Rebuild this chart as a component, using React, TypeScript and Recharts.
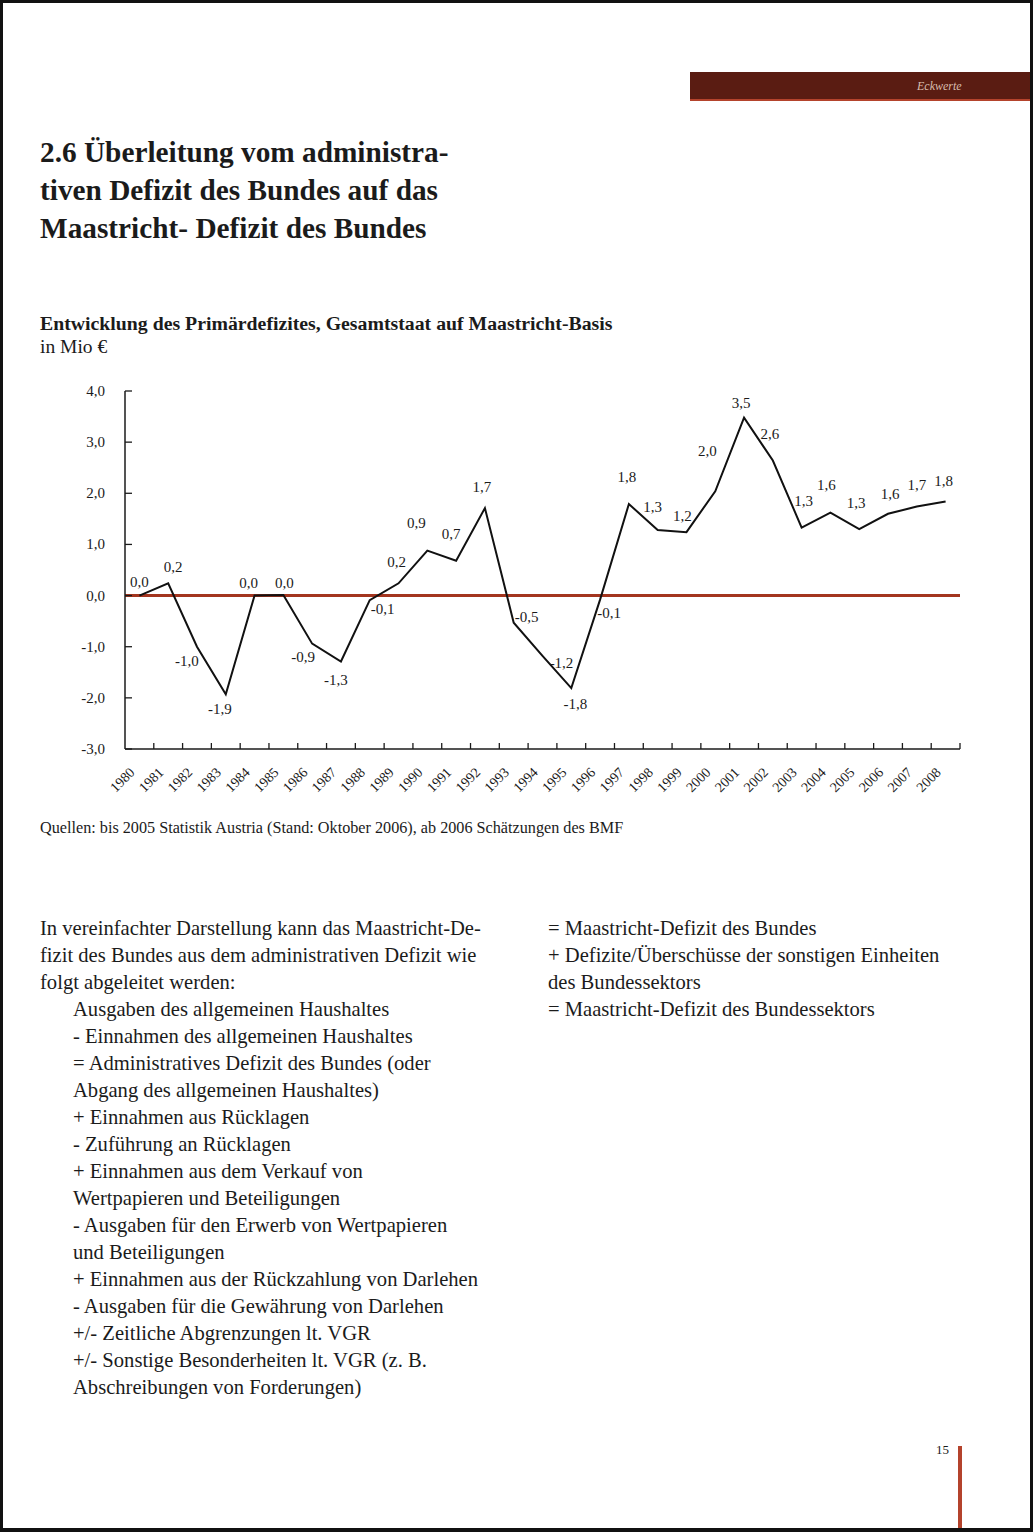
import React from 'react';
import { LineChart, Line, XAxis, YAxis, ReferenceLine, LabelList } from 'recharts';

const years = ['1980','1981','1982','1983','1984','1985','1986','1987','1988','1989','1990','1991','1992','1993','1994','1995','1996','1997','1998','1999','2000','2001','2002','2003','2004','2005','2006','2007','2008'];
const primaryDeficit = [0.0, 0.24, -1.0, -1.93, 0.0, 0.01, -0.94, -1.29, -0.09, 0.24, 0.88, 0.68, 1.71, -0.53, -1.18, -1.81, -0.08, 1.79, 1.28, 1.24, 2.04, 3.48, 2.64, 1.33, 1.62, 1.30, 1.60, 1.74, 1.84];
const yTicks = [-3, -2, -1, 0, 1, 2, 3, 4];

// label placement (text centre relative to the point), styling only
const labelOffsets: [number, number][] = [
  [0,-14],[5,-16],[-10,14],[-6,15],[-6,-13],[1,-12],[-9,13],[-5,18],[13,9],[-2,-21],
  [-11,-28],[-5,-27],[-3,-21],[13,-6],[19,7],[4,16],[9,13],[-2,-27],[-5,-23],[-4,-16],
  [-8,-40],[-3,-15],[-3,-27],[2,-27],[-4,-28],[-3,-26],[2,-20],[0,-22],[-2,-20],
];

const data = years.map((y, i) => ({ year: y, value: primaryDeficit[i] }));

const FONT = '"Liberation Serif", "Times New Roman", serif';
const INK = '#1b1b1b';
const fmt = (v: number) => v.toFixed(1).replace('.', ',');

const CHART_W = 1033;
const CHART_H = 430;
const MARGIN = { top: 21, right: 73, bottom: 0, left: 0 };
const Y_W = 125;
const X_H = 51;
const PLOT_W = CHART_W - MARGIN.right - MARGIN.left - Y_W;
const BAND = PLOT_W / years.length;

const YTick = (props: any) => {
  const { x, y, payload } = props;
  return (
    <g>
      <line x1={x} x2={x + 7} y1={y} y2={y} stroke={INK} strokeWidth={1.3} />
      <text x={x - 20} y={y} textAnchor="end" dominantBaseline="central" fontFamily={FONT} fontSize={15} fill={INK}>
        {fmt(payload.value)}
      </text>
    </g>
  );
};

const XTick = (props: any) => {
  const { x, y, payload } = props;
  const tx = x + BAND / 2;
  const lx = x - 7;
  const ly = y + 21;
  return (
    <g>
      <line x1={tx} x2={tx} y1={y} y2={y - 6} stroke={INK} strokeWidth={1.3} />
      <text x={lx} y={ly} textAnchor="end" dominantBaseline="central" fontFamily={FONT} fontSize={14} fill={INK}
        transform={`rotate(-45 ${lx} ${ly})`}>
        {payload.value}
      </text>
    </g>
  );
};

const PointLabel = (props: any) => {
  const { x, y, value, index } = props;
  const off = labelOffsets[index] || [0, -14];
  return (
    <text x={x + off[0]} y={y + off[1]} textAnchor="middle" dominantBaseline="central" fontFamily={FONT} fontSize={15} fill={INK}>
      {fmt(value)}
    </text>
  );
};

const leftLines: [string, boolean][] = [
  ['In vereinfachter Darstellung kann das Maastricht-De-', false],
  ['fizit des Bundes aus dem administrativen Defizit wie', false],
  ['folgt abgeleitet werden:', false],
  ['Ausgaben des allgemeinen Haushaltes', true],
  ['- Einnahmen des allgemeinen Haushaltes', true],
  ['= Administratives Defizit des Bundes (oder', true],
  ['Abgang des allgemeinen Haushaltes)', true],
  ['+ Einnahmen aus Rücklagen', true],
  ['- Zuführung an Rücklagen', true],
  ['+ Einnahmen aus dem Verkauf von', true],
  ['Wertpapieren und Beteiligungen', true],
  ['- Ausgaben für den Erwerb von Wertpapieren', true],
  ['und Beteiligungen', true],
  ['+ Einnahmen aus der Rückzahlung von Darlehen', true],
  ['- Ausgaben für die Gewährung von Darlehen', true],
  ['+/- Zeitliche Abgrenzungen lt. VGR', true],
  ['+/- Sonstige Besonderheiten lt. VGR (z. B.', true],
  ['Abschreibungen von Forderungen)', true],
];
const rightLines = [
  '= Maastricht-Defizit des Bundes',
  '+ Defizite/Überschüsse der sonstigen Einheiten',
  'des Bundessektors',
  '= Maastricht-Defizit des Bundessektors',
];
const titleLines = [
  '2.6 Überleitung vom administra-',
  'tiven Defizit des Bundes auf das',
  'Maastricht- Defizit des Bundes',
];

const abs = (left: number, top: number, extra: React.CSSProperties = {}): React.CSSProperties => ({
  position: 'absolute', left, top, whiteSpace: 'nowrap', ...extra,
});

export default function App() {
  const bodyStyle: React.CSSProperties = { fontFamily: FONT, fontSize: 20.6, color: INK, lineHeight: '27px' };
  return (
    <div style={{ position: 'absolute', left: 0, top: 0, width: 1033, height: 1532, background: '#fff', overflow: 'hidden', fontFamily: FONT }}>
      {/* scan frame */}
      <div style={abs(0, 0, { width: 1033, height: 3, background: '#111' })} />
      <div style={abs(0, 0, { width: 3, height: 1532, background: '#111' })} />
      <div style={abs(1030, 0, { width: 3, height: 1532, background: '#111' })} />
      <div style={abs(0, 1528, { width: 1033, height: 4, background: '#111' })} />

      {/* header bar */}
      <div style={abs(690, 72, { width: 340, height: 27, background: '#5a1c12' })} />
      <div style={abs(690, 99, { width: 340, height: 2, background: '#b4432c' })} />
      <div style={abs(917, 78, { fontSize: 12, fontStyle: 'italic', color: '#d9bcae', lineHeight: '16px' })}>Eckwerte</div>

      {/* title */}
      {titleLines.map((t, i) => (
        <div key={i} style={abs(40, 132 + i * 38, { fontSize: 29.3, fontWeight: 'bold', color: INK, lineHeight: '40px' })}>{t}</div>
      ))}

      {/* chart heading */}
      <div style={abs(40, 311, { fontSize: 19.8, fontWeight: 'bold', color: INK, lineHeight: '24px' })}>
        Entwicklung des Primärdefizites, Gesamtstaat auf Maastricht-Basis
      </div>
      <div style={abs(40, 335, { fontSize: 19.5, color: INK, lineHeight: '24px' })}>in Mio €</div>

      {/* chart */}
      <div style={abs(0, 370, { width: CHART_W, height: CHART_H })}>
        <LineChart width={CHART_W} height={CHART_H} data={data} margin={MARGIN}>
          <XAxis dataKey="year" scale="band" interval={0} height={X_H} tickSize={0} tickMargin={0}
            axisLine={{ stroke: INK, strokeWidth: 1.5 }} tickLine={false} tick={<XTick />} />
          <YAxis type="number" domain={[-3, 4]} ticks={yTicks} width={Y_W} tickSize={0} tickMargin={0}
            axisLine={{ stroke: INK, strokeWidth: 1.5 }} tickLine={false} tick={<YTick />} allowDataOverflow />
          <ReferenceLine y={0} stroke="#a3351f" strokeWidth={3} />
          <Line type="linear" dataKey="value" stroke="#111" strokeWidth={2} dot={false} isAnimationActive={false}>
            <LabelList dataKey="value" content={<PointLabel />} />
          </Line>
        </LineChart>
      </div>

      {/* source */}
      <div style={abs(40, 818, { fontSize: 16.2, color: INK, lineHeight: '20px' })}>
        Quellen: bis 2005 Statistik Austria (Stand: Oktober 2006), ab 2006 Schätzungen des BMF
      </div>

      {/* body text */}
      {leftLines.map(([t, indent], i) => (
        <div key={i} style={abs(indent ? 73 : 40, 915 + i * 27, bodyStyle)}>{t}</div>
      ))}
      {rightLines.map((t, i) => (
        <div key={i} style={abs(548, 915 + i * 27, bodyStyle)}>{t}</div>
      ))}

      {/* page number */}
      <div style={abs(936, 1442, { fontSize: 13, color: INK, lineHeight: '16px' })}>15</div>
      <div style={abs(958, 1446, { width: 4, height: 82, background: '#b4432c' })} />
    </div>
  );
}
